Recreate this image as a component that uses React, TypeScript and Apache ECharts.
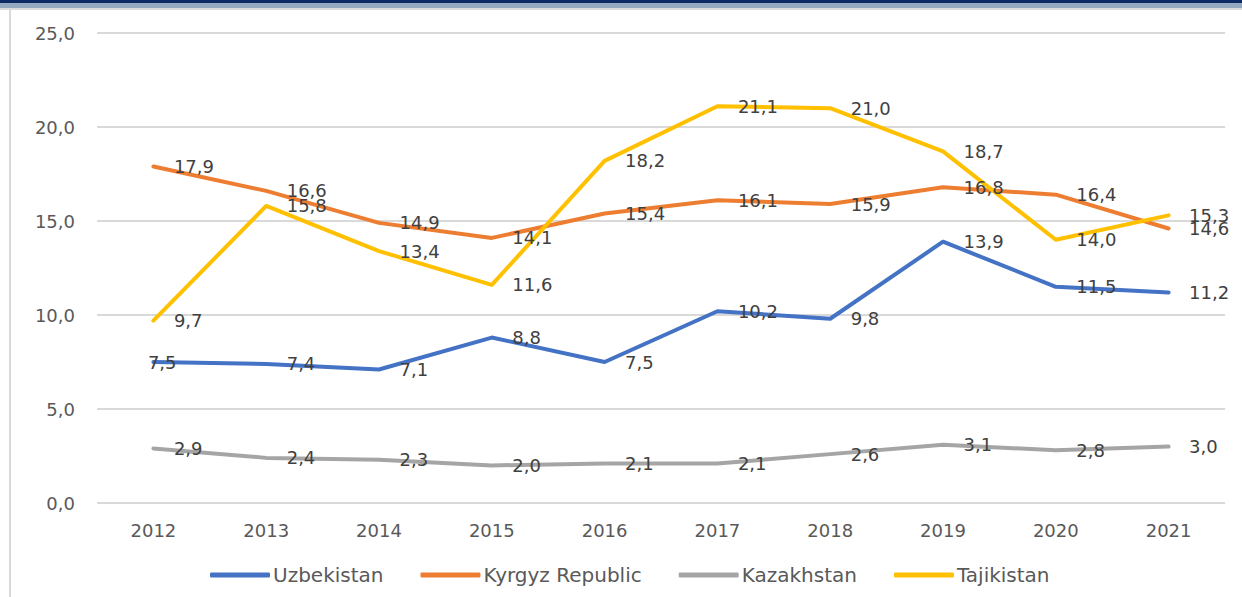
import React, { useEffect, useRef } from "react";
import * as echarts from "echarts";

const years = ["2012", "2013", "2014", "2015", "2016", "2017", "2018", "2019", "2020", "2021"];
const uzbekistan = [7.5, 7.4, 7.1, 8.8, 7.5, 10.2, 9.8, 13.9, 11.5, 11.2];
const kyrgyz = [17.9, 16.6, 14.9, 14.1, 15.4, 16.1, 15.9, 16.8, 16.4, 14.6];
const kazakhstan = [2.9, 2.4, 2.3, 2.0, 2.1, 2.1, 2.6, 3.1, 2.8, 3.0];
const tajikistan = [9.7, 15.8, 13.4, 11.6, 18.2, 21.1, 21.0, 18.7, 14.0, 15.3];

const seriesNames = ["Uzbekistan", "Kyrgyz Republic", "Kazakhstan", "Tajikistan"];
const colors = ["#4472C4", "#ED7D31", "#A5A5A5", "#FFC000"];

export default function App() {
  const ref = useRef<HTMLDivElement>(null);
  useEffect(() => {
    document.body.style.margin = "0";
    const chart = echarts.init(ref.current!, null, { renderer: "svg" });
    const fmt = (v: number) => v.toFixed(1).replace(".", ",");
    const mk = (name: string, data: number[], color: string, shiftFirst = false) => ({
      name,
      type: "line",
      data: data.map((v, i) =>
        shiftFirst && i === 0 ? { value: v, label: { offset: [-26, 0] } } : v
      ),
      symbol: "circle",
      symbolSize: 1,
      showSymbol: true,
      lineStyle: { color, width: 4, cap: "round", join: "round" },
      itemStyle: { color },
      label: {
        show: true,
        position: "right",
        distance: 20,
        color: "#404040",
        fontFamily: "DejaVu Sans",
        fontSize: 18,
        formatter: (p: any) => fmt(p.value),
      },
    });
    chart.setOption({
      animation: false,
      backgroundColor: "#ffffff",
      color: colors,
      grid: { left: 97, right: 17, top: 33, bottom: 94 },
      xAxis: {
        type: "category",
        data: years,
        boundaryGap: true,
        axisLine: { show: false },
        axisTick: { show: false },
        axisLabel: { color: "#595959", fontFamily: "DejaVu Sans", fontSize: 18, margin: 18 },
      },
      yAxis: {
        type: "value",
        min: 0,
        max: 25,
        interval: 5,
        axisLine: { show: false },
        axisTick: { show: false },
        splitLine: { lineStyle: { color: "#d9d9d9", width: 2 } },
        axisLabel: {
          color: "#595959",
          fontFamily: "DejaVu Sans",
          fontSize: 18,
          margin: 22,
          formatter: (v: number) => fmt(v),
        },
      },
      legend: {
        top: 560,
        left: 205,
        itemWidth: 60,
        itemHeight: 5,
        itemGap: 37,
        icon: "roundRect",
        textStyle: { color: "#595959", fontFamily: "DejaVu Sans", fontSize: 20, padding: [0, 0, 0, -2] },
        data: seriesNames,
      },
      graphic: [
        { type: "rect", left: 0, top: 0, shape: { width: 1242, height: 3 }, style: { fill: "#0d2a63" }, silent: true },
        { type: "rect", left: 0, top: 3, shape: { width: 1242, height: 5 }, style: { fill: "#93a9c0" }, silent: true },
        { type: "rect", left: 0, top: 8, shape: { width: 1242, height: 2 }, style: { fill: "#dcdcdc" }, silent: true },
        { type: "rect", left: 9, top: 9, shape: { width: 2, height: 600 }, style: { fill: "#d9d9d9" }, silent: true },
      ],
      series: [
        mk(seriesNames[0], uzbekistan, colors[0], true),
        mk(seriesNames[1], kyrgyz, colors[1]),
        mk(seriesNames[2], kazakhstan, colors[2]),
        mk(seriesNames[3], tajikistan, colors[3]),
      ],
    });
    return () => chart.dispose();
  }, []);
  return <div ref={ref} style={{ width: 1242, height: 597 }} />;
}
